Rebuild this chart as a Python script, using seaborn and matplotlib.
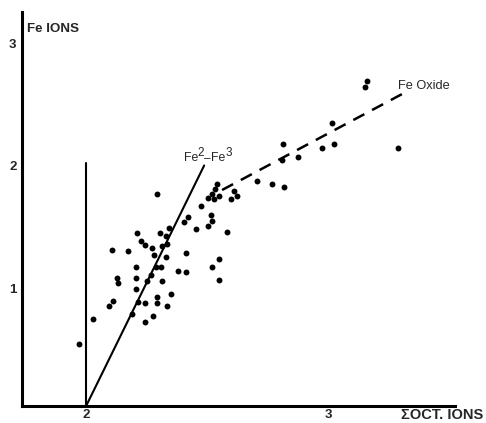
import matplotlib
matplotlib.use("Agg")
import matplotlib.pyplot as plt
import seaborn as sns
import pandas as pd

# Data
oct_ions = [1.971, 2.029, 2.095, 2.112, 2.107, 2.174, 2.128, 2.132, 2.190, 2.207,
            2.207, 2.207, 2.211, 2.215, 2.227, 2.244, 2.244, 2.244, 2.252, 2.269,
            2.273, 2.277, 2.281, 2.289, 2.293, 2.293, 2.293, 2.306, 2.310, 2.314,
            2.314, 2.331, 2.331, 2.335, 2.335, 2.343, 2.351, 2.380, 2.405, 2.413,
            2.413, 2.421, 2.455, 2.475, 2.504, 2.504, 2.517, 2.521, 2.521, 2.521,
            2.529, 2.533, 2.541, 2.550, 2.550, 2.550, 2.583, 2.599, 2.612, 2.624,
            2.707, 2.769, 2.818, 2.810, 2.814, 2.876, 2.975, 3.025, 3.017, 3.153,
            3.161, 3.289]
fe_ions = [0.543, 0.747, 0.853, 0.894, 1.310, 1.302, 1.082, 1.041, 0.788, 1.171,
           1.082, 0.992, 1.449, 0.886, 1.384, 1.351, 0.878, 0.722, 1.057, 1.106,
           1.327, 0.771, 1.269, 1.171, 1.767, 0.927, 0.878, 1.449, 1.171, 1.057,
           1.343, 1.424, 1.253, 1.359, 0.853, 1.490, 0.951, 1.139, 1.539, 1.286,
           1.131, 1.580, 1.482, 1.669, 1.735, 1.506, 1.596, 1.547, 1.767, 1.171,
           1.727, 1.808, 1.849, 1.751, 1.237, 1.065, 1.457, 1.727, 1.792, 1.751,
           1.873, 1.849, 1.824, 2.045, 2.176, 2.069, 2.143, 2.176, 2.347, 2.641,
           2.690, 2.143]

fe23_x = [2.0, 2.488]
fe23_y = [0.037, 2.0]
vert_x = [2.0, 2.0]
vert_y = [0.037, 2.02]
oxide_x = [2.562, 3.322]
oxide_y = [1.80, 2.60]

x_ticks = [2, 3]
y_ticks = [1, 2, 3]

df = pd.DataFrame({"oct": oct_ions, "fe": fe_ions})

sns.set_style("white")
plt.rcParams['font.family'] = ['Liberation Sans', 'DejaVu Sans']

fig = plt.figure(figsize=(4.86, 4.23), dpi=100)
ax = fig.add_axes([0.0453, 0.0402, 0.8909, 0.9314])

sns.scatterplot(data=df, x="oct", y="fe", ax=ax, color="black", s=18,
                edgecolor="black", linewidth=0, legend=False)
sns.lineplot(x=fe23_x, y=fe23_y, ax=ax, color="black", lw=1.5, sort=False,
             estimator=None)
sns.lineplot(x=vert_x, y=vert_y, ax=ax, color="black", lw=1.5, sort=False,
             estimator=None)
ax.plot(oxide_x, oxide_y, color="black", lw=1.8, linestyle=(0, (5, 3.5)))

ax.set_xlim(1.735, 3.525)
ax.set_ylim(0.037, 3.253)
ax.set_xticks(x_ticks)
ax.set_yticks(y_ticks)
ax.set_xticklabels([str(t) for t in x_ticks], fontsize=9.5, fontweight="bold")
ax.set_yticklabels([str(t) for t in y_ticks], fontsize=9.5, fontweight="bold")
ax.set_xticks([2.5], minor=True)
ax.tick_params(axis="both", which="both", direction="in", length=3, width=1.2,
               color="black", pad=4)
ax.tick_params(axis="x", pad=2)
ax.set_xlabel("")
ax.set_ylabel("")
for side in ["top", "right"]:
    ax.spines[side].set_visible(False)
for side in ["left", "bottom"]:
    ax.spines[side].set_color("black")
    ax.spines[side].set_linewidth(2.2)

ax.text(1.756, 3.114, "Fe IONS", fontsize=9.6, fontweight="bold",
        ha="left", va="center")
ax.text(3.64, -0.037, "ΣOCT. IONS", fontsize=10.5, fontweight="bold",
        ha="right", va="center", clip_on=False)
ax.text(3.289, 2.649, "Fe Oxide", fontsize=9.2, ha="left", va="center")

# Fe2–Fe3 label built from chained pieces (large superscripts as in the reference)
t1 = ax.text(2.403, 2.012, "Fe", fontsize=8.8, ha="left", va="bottom")
t2 = ax.annotate("2", xy=(1.0, 0.45), xycoords=t1, fontsize=8.5,
                 ha="left", va="bottom", xytext=(-0.3, 0), textcoords="offset points")
t3 = ax.annotate("–", xy=(1.0, 0.42), xycoords=(t2, t1), fontsize=8.5,
                 ha="left", va="center", xytext=(0.4, 0), textcoords="offset points")
t4 = ax.annotate("Fe", xy=(1.0, 0.0), xycoords=(t3, t1), fontsize=8.8,
                 ha="left", va="bottom", xytext=(0.2, 0), textcoords="offset points")
t5 = ax.annotate("3", xy=(1.0, 0.45), xycoords=(t4, t1), fontsize=8.5,
                 ha="left", va="bottom", xytext=(-0.3, 0), textcoords="offset points")

fig.savefig("out.png", dpi=100)
